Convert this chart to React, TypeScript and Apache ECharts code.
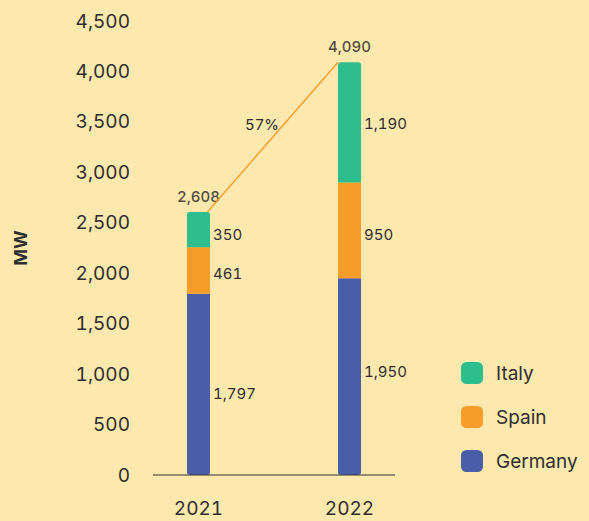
import React, { useEffect, useRef } from "react";
import * as echarts from "echarts";

const years = ["2021", "2022"];
const germany = [1797, 1950];
const spain = [461, 950];
const italy = [350, 1190];
const totals = [2608, 4090];
const growthLabel = "57%";
const legendOrder = ["Italy", "Spain", "Germany"];

const FONT = "Inter";
const TEXT = "#2e2e2e";
const BG = "#fde8ad";
const C_IT = "#2ebd8c";
const C_ES = "#f99d2a";
const C_DE = "#4a5ea8";

export default function App() {
  const ref = useRef<HTMLDivElement>(null);
  useEffect(() => {
    const chart = echarts.init(ref.current!, null, { renderer: "svg" });
    const lbl = (extra: any = {}) => ({
      show: true,
      position: "right",
      distance: 3,
      color: TEXT,
      fontFamily: FONT,
      fontSize: 15,
      formatter: (p: any) => p.value.toLocaleString("en-US"),
      ...extra,
    });
    chart.setOption({
      animation: false,
      backgroundColor: BG,
      textStyle: { fontFamily: FONT },
      grid: { left: 123, width: 302, top: 21, bottom: 46 },
      legend: {
        data: legendOrder,
        orient: "vertical",
        left: 456,
        top: 357,
        itemWidth: 22,
        itemHeight: 22,
        itemGap: 22,
        icon: "roundRect",
        textStyle: { color: TEXT, fontFamily: FONT, fontSize: 19, padding: [0, 0, 0, 8] },
      },
      xAxis: [
        {
          type: "category",
          data: years,
          axisLine: { show: false },
          axisTick: { show: false },
          axisLabel: { color: TEXT, fontFamily: FONT, fontSize: 19, margin: 24 },
        },
        {
          type: "value",
          min: -0.5,
          max: 1.5,
          show: false,
        },
      ],
      yAxis: {
        type: "value",
        min: 0,
        max: 4500,
        interval: 500,
        offset: -30,
        name: "MW",
        nameLocation: "middle",
        nameGap: 124,
        nameTextStyle: { color: TEXT, fontFamily: FONT, fontSize: 18, fontWeight: "bold" },
        axisLine: { show: false },
        axisTick: { show: false },
        splitLine: { show: false },
        axisLabel: {
          color: TEXT,
          fontFamily: FONT,
          fontSize: 19,
          margin: 23,
          formatter: (v: number) => v.toLocaleString("en-US"),
        },
      },
      graphic: [
        {
          type: "line",
          shape: { x1: 153, y1: 475, x2: 395, y2: 475 },
          style: { stroke: "#333", lineWidth: 1.2 },
          z: 10,
        },
      ],
      series: [
        {
          name: "Germany",
          type: "bar",
          stack: "total",
          barWidth: 23,
          itemStyle: { color: C_DE, borderRadius: [0, 0, 3, 3] },
          label: lbl(),
          data: [
            { value: germany[0], label: { offset: [0, 9] } },
            { value: germany[1], label: { offset: [0, -5] } },
          ],
        },
        {
          name: "Spain",
          type: "bar",
          stack: "total",
          barWidth: 23,
          itemStyle: { color: C_ES },
          label: lbl(),
          data: [
            { value: spain[0], label: { offset: [0, 3] } },
            { value: spain[1], label: { offset: [0, 4] } },
          ],
        },
        {
          name: "Italy",
          type: "bar",
          stack: "total",
          barWidth: 23,
          itemStyle: { color: C_IT, borderRadius: [3, 3, 0, 0] },
          label: lbl(),
          data: [
            { value: italy[0], label: { offset: [0, 5] } },
            { value: italy[1], label: { offset: [0, 1] } },
          ],
        },
        {
          name: "Total",
          type: "line",
          xAxisIndex: 1,
          symbol: "none",
          lineStyle: { color: C_ES, width: 1.5 },
          data: [
            [0.06, totals[0]],
            [1 - 0.076, totals[1]],
          ],
          markPoint: {
            symbolSize: 0,
            data: [
              {
                coord: [0.5, (totals[0] + totals[1]) / 2],
                label: {
                  show: true,
                  formatter: growthLabel,
                  color: TEXT,
                  fontFamily: FONT,
                  fontSize: 15,
                  offset: [-12, -13],
                },
              },
            ],
          },
        },
        {
          name: "TotalLabel",
          type: "scatter",
          symbolSize: 0,
          data: [
            [0, totals[0]],
            [1, totals[1]],
          ],
          xAxisIndex: 1,
          label: {
            show: true,
            position: "top",
            distance: 8,
            color: "#222",
            fontFamily: FONT,
            fontSize: 15,
            fontWeight: 500,
            formatter: (p: any) => p.value[1].toLocaleString("en-US"),
          },
        },
      ],
    });
    return () => chart.dispose();
  }, []);
  return (
    <>
      <style>{"#root text { font-variant-numeric: tabular-nums !important; font-feature-settings: 'tnum' 1 !important; }"}</style>
      <div
        ref={ref}
        style={{ position: "absolute", left: 0, top: 0, width: 589, height: 521 }}
      />
    </>
  );
}
